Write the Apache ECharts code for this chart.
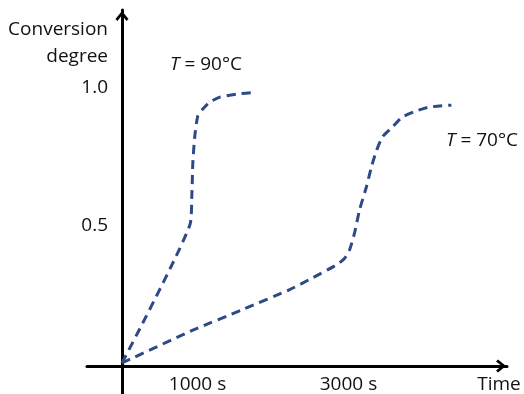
<!DOCTYPE html>
<html>
<head>
<meta charset="utf-8">
<script src="https://cdn.jsdelivr.net/npm/echarts@6/dist/echarts.min.js"></script>
<style>
html,body{margin:0;padding:0;background:#fff;}
#chart{width:524px;height:394px;}
</style>
</head>
<body>
<div id="chart"></div>
<script>
// Time (s) and conversion degree
const time90 = [0, 899, 925, 939, 965, 1005, 1071, 1163, 1296, 1520, 1772];
const conv90 = [0, 0.5, 0.608, 0.730, 0.824, 0.896, 0.921, 0.946, 0.964, 0.975, 0.982];
const time70 = [0, 939, 1600, 2221, 2525, 2842, 2950, 3014, 3080, 3146, 3239, 3305, 3371, 3451, 3583, 3715, 3900, 4072, 4363];
const conv70 = [0, 0.119, 0.194, 0.266, 0.309, 0.356, 0.38, 0.41, 0.471, 0.554, 0.640, 0.712, 0.770, 0.820, 0.856, 0.892, 0.914, 0.928, 0.935];
const xTicks = [1000, 3000];
const yTicks = [0.5, 1.0];
const seriesNames = ['T = 90°C', 'T = 70°C'];

const FONT = '"Open Sans", sans-serif';
const FS = 19;
const TXT = '#111';
const LINE = '#2E4A86';
const arrow = 'path://M0,8 L6.5,0 L13,8 L11,10 L6.5,4 L2,10 Z';

function pairs(xs, ys) { return xs.map((x, i) => [x, ys[i]]); }
const axisLineStyle = {color: '#000', width: 3};
const arrowLine = {show: true, onZero: true, lineStyle: axisLineStyle,
  symbol: ['none', arrow], symbolSize: [13, 13], symbolOffset: [0, -6]};

const chart = echarts.init(document.getElementById('chart'), null, {renderer: 'canvas'});
chart.setOption({
  animation: false,
  backgroundColor: '#fff',
  grid: [
    // plotting grid (data, tick labels, names)
    {left: 122, right: 17, top: 10, bottom: 28, containLabel: false},
    // full-extent grid used only to draw the crossing arrow axes
    {left: 87, right: 17, top: 10, bottom: 0, containLabel: false}
  ],
  xAxis: [{
    gridIndex: 0, type: 'value', min: 0, max: 5100,
    splitLine: {show: false}, axisTick: {show: false}, axisLine: {show: false},
    axisLabel: {customValues: xTicks, formatter: v => v + ' s', margin: 12,
      verticalAlign: 'top', lineHeight: 19,
      fontSize: FS, fontFamily: FONT, color: TXT},
    name: 'Time', nameLocation: 'end', nameGap: -8,
    nameTextStyle: {align: 'center', verticalAlign: 'top', lineHeight: 19, padding: [12, 0, 0, 0],
      fontSize: FS, fontFamily: FONT, color: TXT}
  }, {
    gridIndex: 1, type: 'value', min: -35, max: 385,
    splitLine: {show: false}, axisTick: {show: false}, axisLabel: {show: false},
    axisLine: arrowLine
  }],
  yAxis: [{
    gridIndex: 0, type: 'value', min: 0, max: 1.28,
    splitLine: {show: false}, axisTick: {show: false}, axisLine: {show: false},
    axisLabel: {customValues: yTicks, formatter: v => v.toFixed(1), margin: 14,
      fontSize: FS, fontFamily: FONT, color: TXT},
    name: 'Conversion\ndegree', nameLocation: 'end', nameGap: -6,
    nameTextStyle: {align: 'right', verticalAlign: 'top', lineHeight: 27,
      padding: [0, 14, 0, 0], fontSize: FS, fontFamily: FONT, color: TXT}
  }, {
    gridIndex: 1, type: 'value', min: -28, max: 356,
    splitLine: {show: false}, axisTick: {show: false}, axisLabel: {show: false},
    axisLine: arrowLine
  }],
  graphic: [
    {type: 'text', x: 170, y: 65, style: {
      text: '{i|T} = 90°C', font: FS + 'px ' + FONT, fill: TXT, verticalAlign: 'middle',
      rich: {i: {fontStyle: 'italic', fontSize: FS, fontFamily: FONT, fill: TXT}}}},
    {type: 'text', x: 446, y: 141, style: {
      text: '{i|T} = 70°C', font: FS + 'px ' + FONT, fill: TXT, verticalAlign: 'middle',
      rich: {i: {fontStyle: 'italic', fontSize: FS, fontFamily: FONT, fill: TXT}}}}
  ],
  series: [
    {name: seriesNames[0], type: 'line', xAxisIndex: 0, yAxisIndex: 0,
      data: pairs(time90, conv90), showSymbol: false,
      smooth: 0.2, lineStyle: {color: LINE, width: 3, type: [9, 6]}},
    {name: seriesNames[1], type: 'line', xAxisIndex: 0, yAxisIndex: 0,
      data: pairs(time70, conv70), showSymbol: false,
      smooth: 0.2, lineStyle: {color: LINE, width: 3, type: [9, 6]}}
  ]
});
</script>
</body>
</html>
